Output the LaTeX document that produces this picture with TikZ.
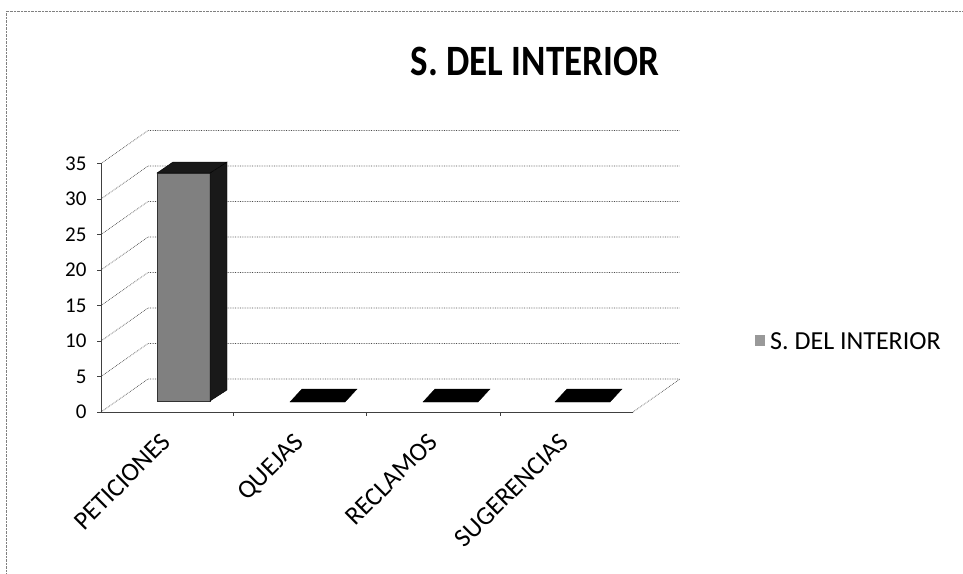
\documentclass[tikz,border=0pt]{standalone}
\usepackage{fontspec}
\setmainfont{Carlito}

\begin{document}
\begin{tikzpicture}[x=1pt,y=-1pt,
    gridline/.style={black!70, densely dotted, line width=0.7pt},
    axisline/.style={black!75, line width=0.7pt},
    barfront/.style={fill=black!50, draw=black!80},
    barside/.style={fill=black!90, draw=black},
    flatbar/.style={fill=black, draw=black},
    ticklab/.style={anchor=east, font=\fontsize{21}{21}\selectfont},
    catlab/.style={anchor=north east, rotate=45, inner sep=1pt, font=\fontsize{26}{26}\selectfont}]
    \useasboundingbox (0,0) rectangle (963,573);

    % Draw frame
    \draw[black!50, densely dotted] (6,573) -- (6,11) -- (963,11);

    % Title
    \node[font=\fontsize{37}{37}\bfseries] (title) at (535,61) {\scalebox{1}[1.17]{S. DEL INTERIOR}};

    % Draw walls and grid
    \foreach \v in {0,5,...,35} {
        \draw[gridline] (101,{412-7.1*\v}) -- (148,{379-7.1*\v}) -- (680,{379-7.1*\v});
        \draw[axisline] (97,{412-7.1*\v}) -- (101,{412-7.1*\v});
        \node[ticklab] (tick\v) at (90,{412-7.1*\v}) {\v};
    }
    \draw[gridline] (633,412) -- (680,379);

    % Draw axes
    \draw[axisline] (101,412) -- (101,163);
    \draw[axisline] (101,412) -- (633,412);
    \draw[axisline] (233,412) -- (233,416);
    \draw[axisline] (366,412) -- (366,416);
    \draw[axisline] (500,412) -- (500,416);

    % Draw bars
    \fill[barfront] (157,173) rectangle (210,401);
    \fill[barside] (210,173) -- (227,162) -- (227,390) -- (210,401) -- cycle;
    \fill[barside] (157,173) -- (173,162) -- (227,162) -- (210,173) -- cycle;
    \fill[flatbar] (290,402) -- (345,402) -- (357,389) -- (302,389) -- cycle;
    \fill[flatbar] (423,402) -- (478,402) -- (490,389) -- (435,389) -- cycle;
    \fill[flatbar] (555,402) -- (610,402) -- (622,389) -- (567,389) -- cycle;

    % Category labels
    \node[catlab] (peticiones) at (160,430) {PETICIONES};
    \node[catlab] (quejas) at (293,430) {QUEJAS};
    \node[catlab] (reclamos) at (427,430) {RECLAMOS};
    \node[catlab] (sugerencias) at (558,430) {SUGERENCIAS};

    % Legend
    \fill[black!40] (755,335) rectangle (765,346);
    \node[anchor=west, inner sep=2pt, font=\fontsize{26}{26}\selectfont] (legend) at (768,341) {S. DEL INTERIOR};
\end{tikzpicture}
\end{document}
